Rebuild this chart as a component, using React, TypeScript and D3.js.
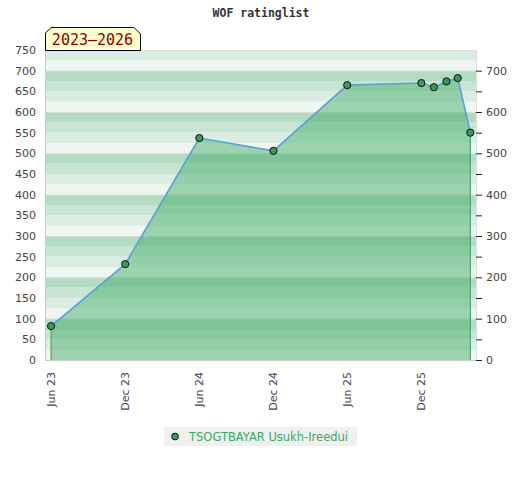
import React from 'react';
import * as d3 from 'd3';

// chart data
const title = 'WOF ratinglist';
const periodLabel = '2023–2026';
const playerName = 'TSOGTBAYAR Usukh-Ireedui';
const dates = ['2023-06', '2023-12', '2024-06', '2024-12', '2025-06', '2025-12', '2026-01', '2026-02', '2026-03', '2026-04'];
const ratings = [82, 232, 537, 506, 665, 670, 660, 674, 682, 550];
const xTickDates = ['2023-06', '2023-12', '2024-06', '2024-12', '2025-06', '2025-12'];
const xTickLabels = ['Jun 23', 'Dec 23', 'Jun 24', 'Dec 24', 'Jun 25', 'Dec 25'];
const leftTicks = d3.range(0, 751, 50);
const rightTicks = d3.range(0, 701, 100);
const rightMinorTicks = d3.range(0, 701, 50);
const bandColors = ['#eef6f1', '#dbede2', '#c7e5d2', '#b3dcc3'];

const W = 520;
const H = 480;
const margin = { top: 50, right: 44, bottom: 120, left: 45 };

const parse = d3.timeParse('%Y-%m');

interface Point {
  date: Date;
  value: number;
}

const App: React.FC = () => {
  const innerW = W - margin.left - margin.right;
  const innerH = H - margin.top - margin.bottom;

  const points: Point[] = dates.map((d, i) => ({ date: parse(d) as Date, value: ratings[i] }));

  const x = d3.scaleTime()
    .domain([new Date(2023, 4, 17), new Date(2026, 3, 15)])
    .range([0, innerW]);
  const y = d3.scaleLinear().domain([0, 750]).range([innerH, 0]);

  const area = d3.area<Point>()
    .x(d => x(d.date))
    .y0(y(0))
    .y1(d => y(d.value));
  const line = d3.line<Point>()
    .x(d => x(d.date))
    .y(d => y(d.value));

  const bands = d3.range(0, 750, 25);
  const first = points[0];
  const last = points[points.length - 1];
  const font = '"DejaVu Sans", sans-serif';

  return (
    <svg width={W} height={H} style={{ position: 'absolute', left: 0, top: 0, background: '#fff' }}>
      <text x={W / 2 + 1} y={17} textAnchor="middle" fontFamily='"DejaVu Sans Mono", monospace'
        fontWeight="bold" fontSize={11.5} fill="#333">{title}</text>

      <g transform={`translate(${margin.left},${margin.top})`}>
        {/* background bands */}
        {bands.map(v => (
          <rect key={v} x={0} width={innerW} y={y(v + 25)} height={y(v) - y(v + 25)}
            fill={bandColors[(v / 25) % 4]} />
        ))}
        {rightTicks.map(v => (
          <line key={v} x1={0} x2={innerW} y1={y(v) + 0.5} y2={y(v) + 0.5} stroke="#d6dcd8" />
        ))}

        {/* series */}
        <path d={area(points) || ''} fill="rgba(63,173,100,0.47)" />
        <line x1={x(first.date)} x2={x(first.date)} y1={y(first.value)} y2={y(0)} stroke="#3a9a5a" />
        <line x1={x(last.date)} x2={x(last.date)} y1={y(last.value)} y2={y(0)} stroke="#3a9a5a" />
        <path d={line(points) || ''} fill="none" stroke="#5aa0d8" strokeWidth={1.6} />
        {points.map((p, i) => (
          <circle key={i} cx={x(p.date)} cy={y(p.value)} r={3.6} fill="#3a9a5a" stroke="#111" strokeWidth={1} />
        ))}

        {/* frame */}
        <line x1={0.5} x2={0.5} y1={0} y2={innerH} stroke="#ccc" />
        <line x1={0} x2={innerW} y1={innerH + 0.5} y2={innerH + 0.5} stroke="#ccc" />
        <line x1={0} x2={innerW} y1={0.5} y2={0.5} stroke="#ddd" />
        <line x1={innerW + 0.5} x2={innerW + 0.5} y1={0} y2={innerH} stroke="#ddd" />

        {/* left axis */}
        {leftTicks.map(v => (
          <text key={v} x={-9} y={y(v)} dy="0.35em" textAnchor="end" fontFamily={font}
            fontSize={11} fill="#444">{v}</text>
        ))}

        {/* right axis */}
        {rightMinorTicks.map(v => (
          <line key={v} x1={innerW} x2={innerW + 6} y1={y(v) + 0.5} y2={y(v) + 0.5} stroke="#222" />
        ))}
        {rightTicks.map(v => (
          <text key={v} x={innerW + 10} y={y(v)} dy="0.35em" textAnchor="start" fontFamily={font}
            fontSize={11} fill="#444">{v}</text>
        ))}

        {/* x axis */}
        {xTickDates.map((d, i) => {
          const px = x(parse(d) as Date);
          return (
            <text key={d} transform={`translate(${px},${innerH + 12}) rotate(-90)`} dy="0.35em"
              textAnchor="end" fontFamily={font} fontSize={11} fill="#444">{xTickLabels[i]}</text>
          );
        })}

        {/* period badge */}
        <path d="M0.5,0.5 V-17 L6,-22.5 H89 L95.5,-16 V0.5 Z" fill="#ffffcc" stroke="#000" strokeWidth={1} />
        <text x={47.5} y={-5} textAnchor="middle" fontFamily='"DejaVu Sans Mono", monospace'
          fontSize={15} fill="#8b0000">{periodLabel}</text>
      </g>

      {/* legend */}
      <g transform="translate(164,427)">
        <rect width={193} height={19} fill="#f0f0f0" />
        <circle cx={11} cy={9.5} r={3.4} fill="#3a9a5a" stroke="#111" />
        <text x={25} y={9.5} dy="0.35em" fontFamily={font} fontSize={11.5} fill="#3aaa5e">{playerName}</text>
      </g>
    </svg>
  );
};

export default App;
